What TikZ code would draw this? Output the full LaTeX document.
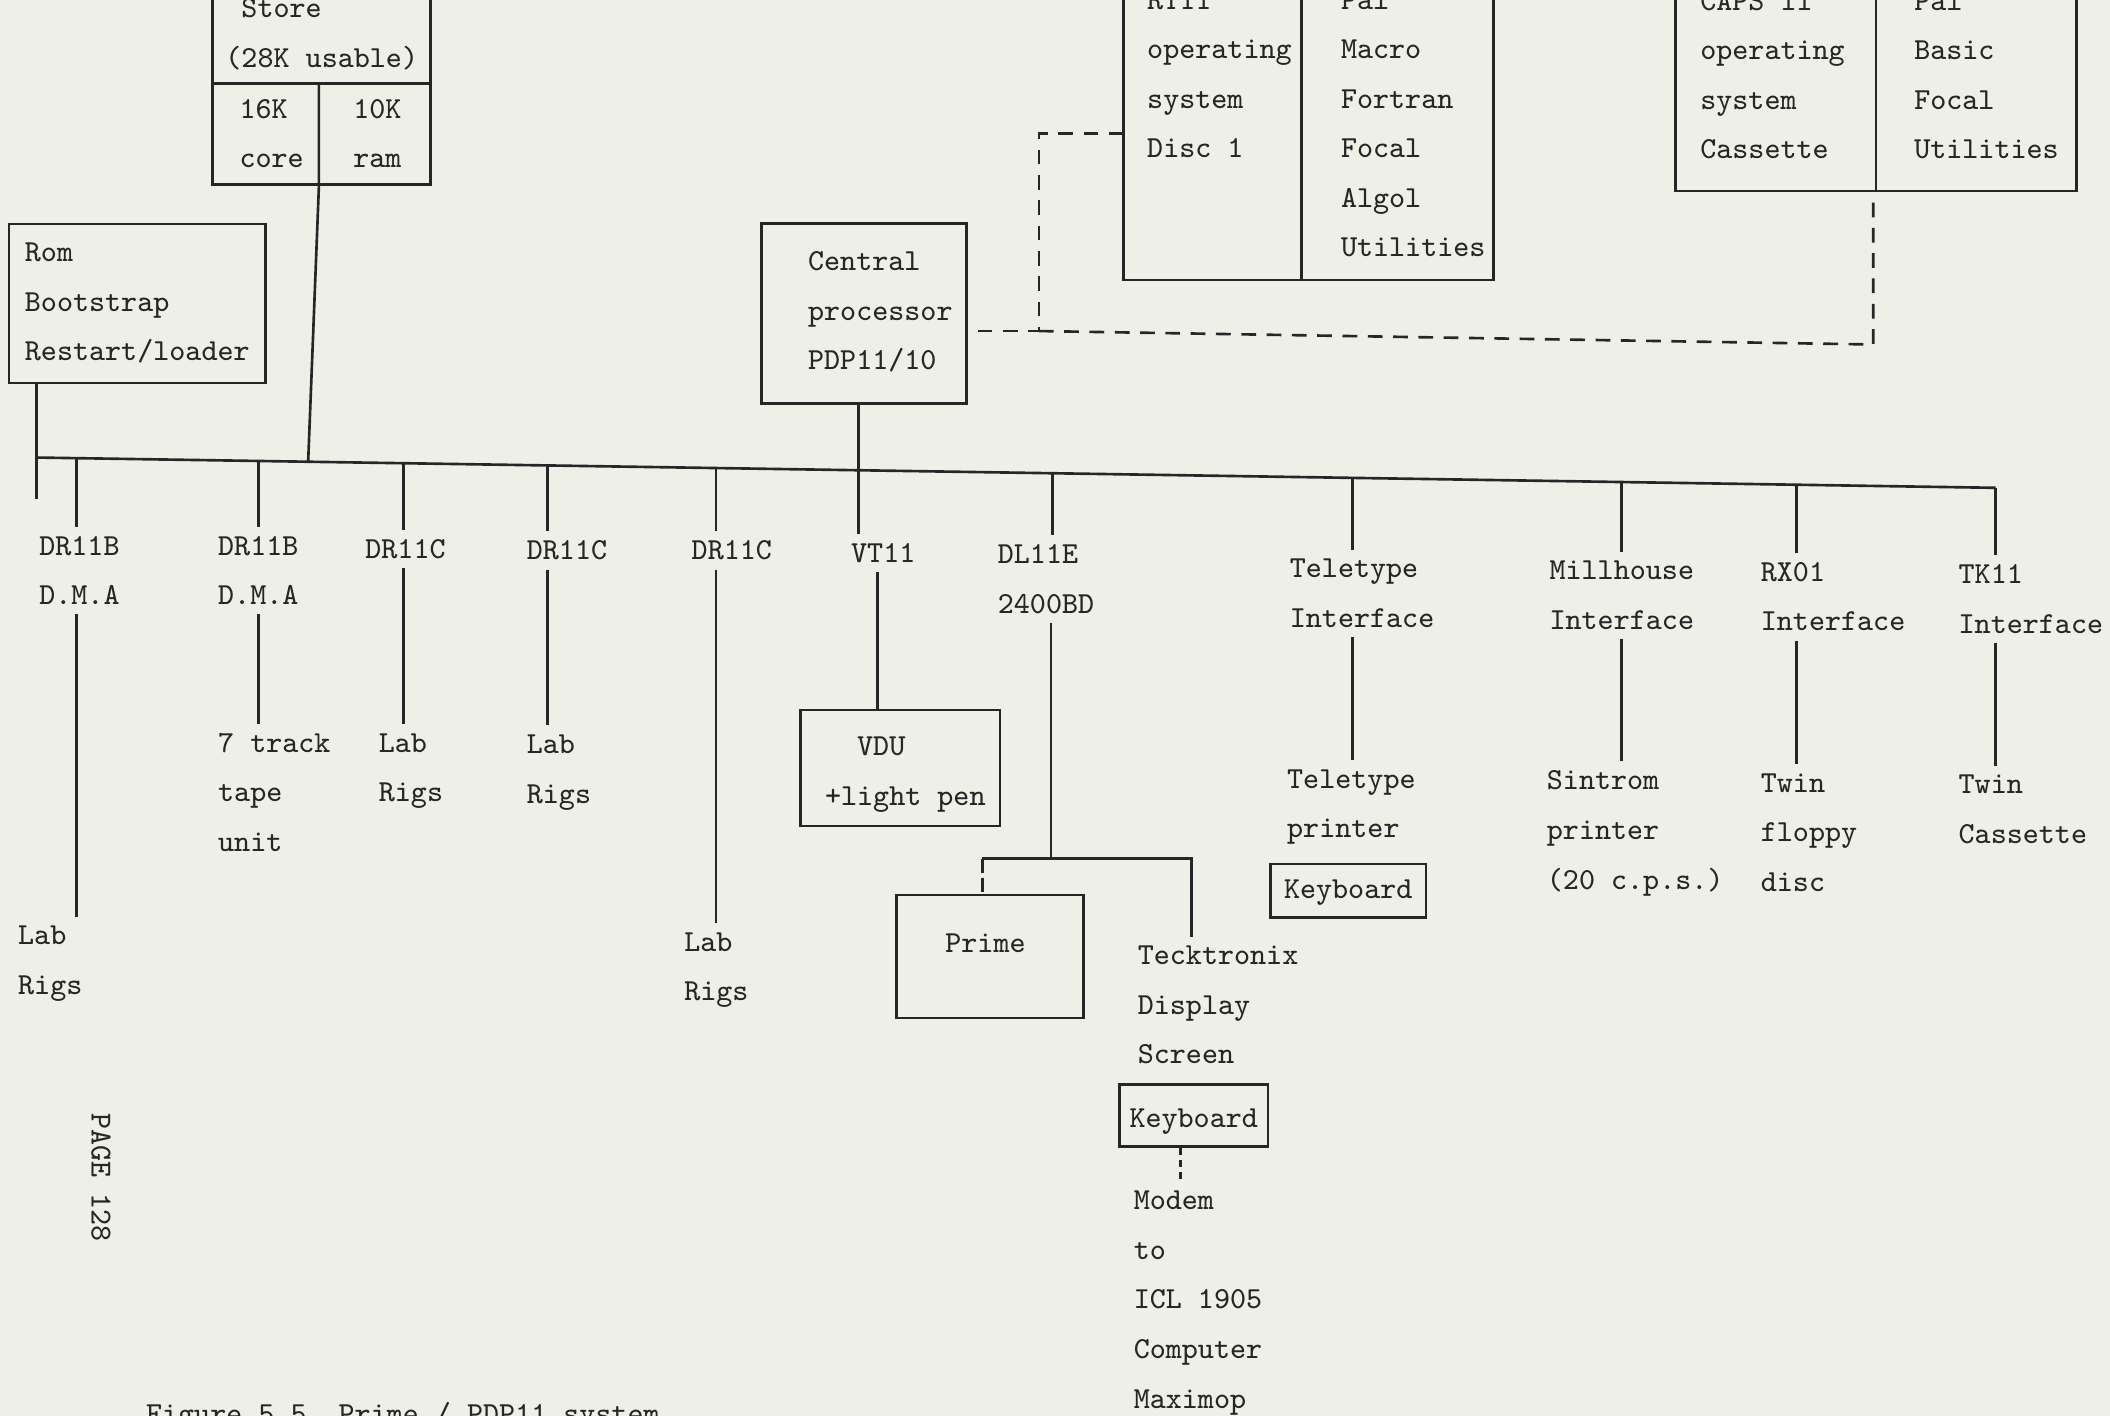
\documentclass[tikz,border=0pt]{standalone}
\usepackage{tikz}
\usetikzlibrary{calc,fit,positioning}

\definecolor{paper}{RGB}{238,240,232}
\definecolor{ink}{RGB}{38,38,38}
\newcommand{\typefont}{\fontsize{8.7}{14.1}\selectfont\ttfamily}

\tikzset{
    wire/.style={draw=ink, line width=0.75pt},
    dashlink/.style={draw=ink, line width=0.75pt, dash pattern=on 4.2pt off 3pt},
    brokenlink/.style={draw=ink, line width=0.75pt, dash pattern=on 4pt off 1.5pt},
    dotlink/.style={draw=ink, line width=0.75pt, dash pattern=on 2pt off 1.5pt},
    box/.style={draw=ink, line width=0.75pt, inner sep=0pt},
    txt/.style={font=\typefont, text=ink, align=left, anchor=base west,
                inner xsep=0pt, inner ysep=2.5pt},
    % the base of a node of several lines is its last line: move it down
    nl/.style={yshift={-(#1-1)*14.1pt}},
    kbox/.style={draw=ink, line width=0.75pt, font=\typefont, text=ink, anchor=base west,
                 text height=6.4pt, text depth=1.8pt, inner xsep=3.9pt, inner ysep=3.5pt},
}

\begin{document}
\begin{tikzpicture}[x=0.13457mm, y=-0.13457mm]
    \path[use as bounding box] (0,0) rectangle (1568,1052);
    \clip (0,0) rectangle (1568,1052);
    \fill[paper] (0,0) rectangle (1568,1052);

    % Store
    \node[box, fit={(158,-30) (320,137)}] (store) {};
    \draw[wire] (158,62) -- (320,62);
    \node[txt, nl=2] (storeT) at (167,13) {~Store\\(28K usable)};
    \node[txt, nl=2] (core) at (177.5,88) {16K\\core};
    \node[txt, nl=2] (ram) at (262,88) {10K\\ram};

    % Rom
    \node[box, fit={(6.6,166.5) (197.5,284.5)}] (rom) {};
    \node[txt, nl=3] (romT) at (18,194.5) {Rom\\Bootstrap\\Restart/loader};

    % Central processor
    \node[box, fit={(566,166) (718,300)}] (cpu) {};
    \node[txt, nl=3] (cpuT) at (600,201) {Central\\processor\\PDP11/10};

    % RT11 and CAPS II software
    \node[box, fit={(835,-30) (1110,208)}] (rt11) {};
    \draw[wire] (967,-30) -- (967,208);
    \node[txt, nl=4] (rtos) at (852,6.7) {RT11\\operating\\system\\Disc 1};
    \node[txt, nl=6] (rtlang) at (996,6.7) {Pal\\Macro\\Fortran\\Focal\\Algol\\Utilities};
    \node[box, fit={(1245,-30) (1543,142)}] (caps) {};
    \draw[wire] (1394,-30) -- (1394,142);
    \node[txt, nl=4] (capsos) at (1263,7.5) {CAPS II\\operating\\system\\Cassette};
    \node[txt, nl=4] (capslang) at (1422,7.5) {Pal\\Basic\\Focal\\Utilities};

    % Bus and taps
    \coordinate (busL) at (27,340);
    \coordinate (busR) at (1483,362.5);
    \foreach \n/\x in {tdra/57, tdrb/192, tst/229, tdca/300, tdcb/407, tdcc/532,
                       tvt/638, tdl/782, ttt/1005, tmh/1205, trx/1335} {
        \coordinate (\n) at (\x, {340+(\x-27)*0.015453});
    }
    \draw[wire] (busL) -- (busR);

    % Devices on the bus
    \node[txt, nl=2] (dra) at (28.7,412.5) {DR11B\\D.M.A};
    \node[txt, nl=2] (laba) at (13,702) {Lab\\Rigs};
    \node[txt, nl=2] (drb) at (161.6,412.5) {DR11B\\D.M.A};
    \node[txt, nl=3] (tape) at (161.6,559) {7 track\\tape\\unit};
    \node[txt] (dca) at (271,415) {DR11C};
    \node[txt, nl=2] (labb) at (281,559) {Lab\\Rigs};
    \node[txt] (dcb) at (391,416) {DR11C};
    \node[txt, nl=2] (labc) at (391,560) {Lab\\Rigs};
    \node[txt] (dcc) at (513.5,416) {DR11C};
    \node[txt, nl=2] (labd) at (508,707) {Lab\\Rigs};
    \node[txt] (vt) at (632,418) {VT11};
    \node[box, fit={(595,527.6) (743,613.7)}] (vdu) {};
    \node[txt, nl=2] (vduT) at (612.6,561.6) {~~VDU\\+light pen};
    \node[txt, nl=2] (dl) at (741,419) {DL11E\\2400BD};
    \node[box, fit={(666,665) (805,756.6)}] (prime) {};
    \node[txt] (primeT) at (702,708) {Prime};
    \node[txt, nl=3] (tek) at (845,717) {Tecktronix\\Display\\Screen};
    \node[kbox, text height=8.7pt, inner xsep=2.9pt] (kbdb) at (830.8,838) {Keyboard};
    \node[txt, nl=5] (modem) at (842,899) {Modem\\to\\ICL 1905\\Computer\\Maximop};
    \node[txt, nl=2] (tt) at (958,429.5) {Teletype\\Interface};
    \node[txt, nl=2] (ttp) at (956,585.7) {Teletype\\printer};
    \node[kbox] (kbda) at (943,668) {Keyboard};
    \node[txt, nl=2] (mh) at (1151,430.8) {Millhouse\\Interface};
    \node[txt, nl=3] (sin) at (1149,587) {Sintrom\\printer\\(20 c.p.s.)};
    \node[txt, nl=2] (rx) at (1308,432) {RX01\\Interface};
    \node[txt, nl=3] (flop) at (1308,588.6) {Twin\\floppy\\disc};
    \node[txt, nl=2] (tk) at (1455,433.6) {TK11\\Interface};
    \node[txt, nl=2] (cass) at (1455,590) {Twin\\Cassette};

    % Connections
    \coordinate (sdiv) at (237,62);
    \draw[wire] (sdiv) -- (sdiv |- store.south) -- (tst);
    \coordinate (romend) at (27,371);
    \draw[wire] (busL |- rom.south) -- (romend);
    \foreach \t/\a/\b in {tdra/dra/laba, tdrb/drb/tape, tdca/dca/labb, tdcb/dcb/labc,
                          tdcc/dcc/labd, ttt/tt/ttp, tmh/mh/sin, trx/rx/flop, busR/tk/cass} {
        \draw[wire] (\t) -- (\t |- \a.north);
        \draw[wire] (\t |- \a.south) -- (\t |- \b.north);
    }
    \coordinate (vtl) at (652,0);
    \draw[wire] (tvt |- cpu.south) -- (tvt |- vt.north);
    \draw[wire] (vtl |- vt.south) -- (vtl |- vdu.north);
    \draw[wire] (tdl) -- (tdl |- dl.north);
    \coordinate (dlj) at (781,638);
    \coordinate (pj) at (730,638);
    \coordinate (tj) at (885.6,638);
    \draw[wire] (dlj |- dl.south) -- (dlj);
    \draw[wire] (pj) -- (tj) -- (tj |- tek.north);
    \draw[brokenlink] (pj) -- (pj |- prime.north);
    \coordinate (mtop) at ($(kbdb.south)+(-10,0)$);
    \draw[dotlink] (mtop) -- (mtop |- modem.north);

    % Dashed links to the software
    \coordinate (dj) at (772,246);
    \coordinate (dc) at (1392,256);
    \coordinate (rtin) at (835,99);
    \draw[dashlink] (rtin) -| (dj) -- (cpu.east |- dj);
    \draw[dashlink] (dj) -- (dc) -- (dc |- caps.south);

    % Page number and caption
    \node[txt, rotate=-90, anchor=center] (pagenum) at (75,875) {PAGE 128};
    \node[txt] (caption) at (108,1058) {Figure 5.5~~Prime / PDP11 system};
\end{tikzpicture}
\end{document}
